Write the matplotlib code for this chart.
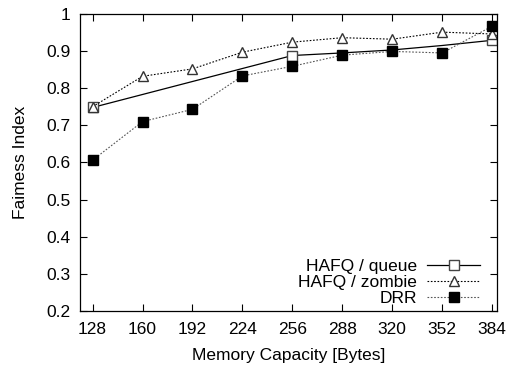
import matplotlib
matplotlib.use("Agg")
import matplotlib.pyplot as plt

plt.rcParams["font.family"] = ["Liberation Sans", "DejaVu Sans"]
plt.rcParams["font.size"] = 12.5

memory = [128, 160, 192, 224, 256, 288, 320, 352, 384]
hafq_queue = [0.748, 0.783, 0.818, 0.853, 0.888, 0.895, 0.903, 0.915, 0.929]
hafq_zombie = [0.750, 0.832, 0.852, 0.897, 0.924, 0.936, 0.932, 0.951, 0.946]
drr = [0.606, 0.710, 0.743, 0.833, 0.859, 0.889, 0.899, 0.895, 0.967]

fig = plt.figure(figsize=(5.07, 3.67), dpi=100)
ax = fig.add_axes([0.158, 0.153, 0.822, 0.809])

ax.plot(memory, hafq_queue, color="black", linewidth=0.9, marker="s",
        markersize=7, markerfacecolor="white", markeredgecolor="#444444",
        markevery=[0, 4, 8], label="HAFQ / queue")
ax.plot(memory, hafq_zombie, color="black", linewidth=0.8, linestyle=(0, (1.5, 1.5)),
        marker="^", markersize=7, markerfacecolor="white", markeredgecolor="#333333",
        label="HAFQ / zombie")
ax.plot(memory, drr, color="#555555", linewidth=0.8, linestyle=(0, (1.5, 1.5)),
        marker="s", markersize=7.5, markerfacecolor="black", markeredgecolor="black",
        label="DRR")

ax.set_xlim(120, 387)
ax.set_ylim(0.2, 1.0)
ax.set_xticks(memory)
ax.set_yticks([0.2, 0.3, 0.4, 0.5, 0.6, 0.7, 0.8, 0.9, 1.0])
ax.set_yticklabels(["0.2", "0.3", "0.4", "0.5", "0.6", "0.7", "0.8", "0.9", "1"])
ax.tick_params(direction="in", top=True, right=True, length=5, width=0.8, pad=7)
ax.tick_params(axis="x", pad=8)
for s in ax.spines.values():
    s.set_linewidth(0.9)

ax.set_xlabel("Memory Capacity [Bytes]", labelpad=8)
ax.set_ylabel("Faimess Index", labelpad=13)

ax.legend(loc="lower right", bbox_to_anchor=(0.971, 0.0), frameon=False,
          markerfirst=False, handlelength=3.0, labelspacing=0.05,
          borderaxespad=0.0, borderpad=0.3, handletextpad=0.6)

fig.savefig("out.png", dpi=100)
